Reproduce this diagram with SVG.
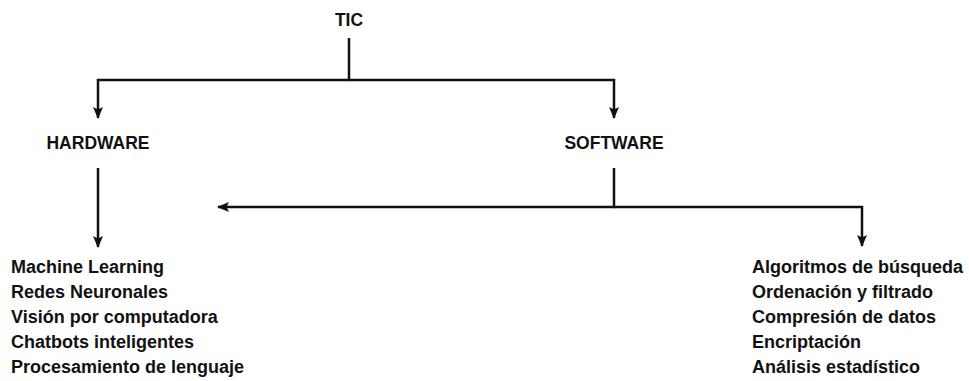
<svg xmlns="http://www.w3.org/2000/svg" width="969" height="381" viewBox="0 0 969 381">
  <style>
    text { font-family: "Liberation Sans", Arial, Helvetica, sans-serif; font-weight: bold; font-size: 18px; fill: #111; }
    .mid { text-anchor: middle; font-size: 17.5px; }
    .conn { fill: none; stroke: #111; stroke-width: 2.5; }
  </style>
  <defs>
    <marker id="arrow" viewBox="0 0 12 10" refX="11" refY="5" markerWidth="12" markerHeight="10" markerUnits="userSpaceOnUse" orient="auto">
      <path d="M0,0 L12,5 L0,10 L2.5,5 z" fill="#111"/>
    </marker>
  </defs>
  <rect width="969" height="381" fill="#fff"/>
  <g id="connectors">
    <path class="conn" d="M349 38 V80 H98 V118" marker-end="url(#arrow)"/>
    <path class="conn" d="M349 80 H614 V118" marker-end="url(#arrow)"/>
    <path class="conn" d="M98 168 V247" marker-end="url(#arrow)"/>
    <path class="conn" d="M614 168 V207 H218" marker-end="url(#arrow)"/>
    <path class="conn" d="M614 207 H862 V246" marker-end="url(#arrow)"/>
  </g>
  <g id="tic"><text class="mid" x="349" y="26">TIC</text></g>
  <g id="hardware"><text class="mid" x="98" y="149">HARDWARE</text></g>
  <g id="software"><text class="mid" x="614" y="149">SOFTWARE</text></g>
  <g id="hardware-list">
    <text x="11" y="273">Machine Learning</text>
    <text x="11" y="298">Redes Neuronales</text>
    <text x="11" y="323">Visión por computadora</text>
    <text x="11" y="348">Chatbots inteligentes</text>
    <text x="11" y="373">Procesamiento de lenguaje</text>
  </g>
  <g id="software-list">
    <text x="752" y="273">Algoritmos de búsqueda</text>
    <text x="752" y="298">Ordenación y filtrado</text>
    <text x="752" y="323">Compresión de datos</text>
    <text x="752" y="348">Encriptación</text>
    <text x="752" y="373">Análisis estadístico</text>
  </g>
</svg>
